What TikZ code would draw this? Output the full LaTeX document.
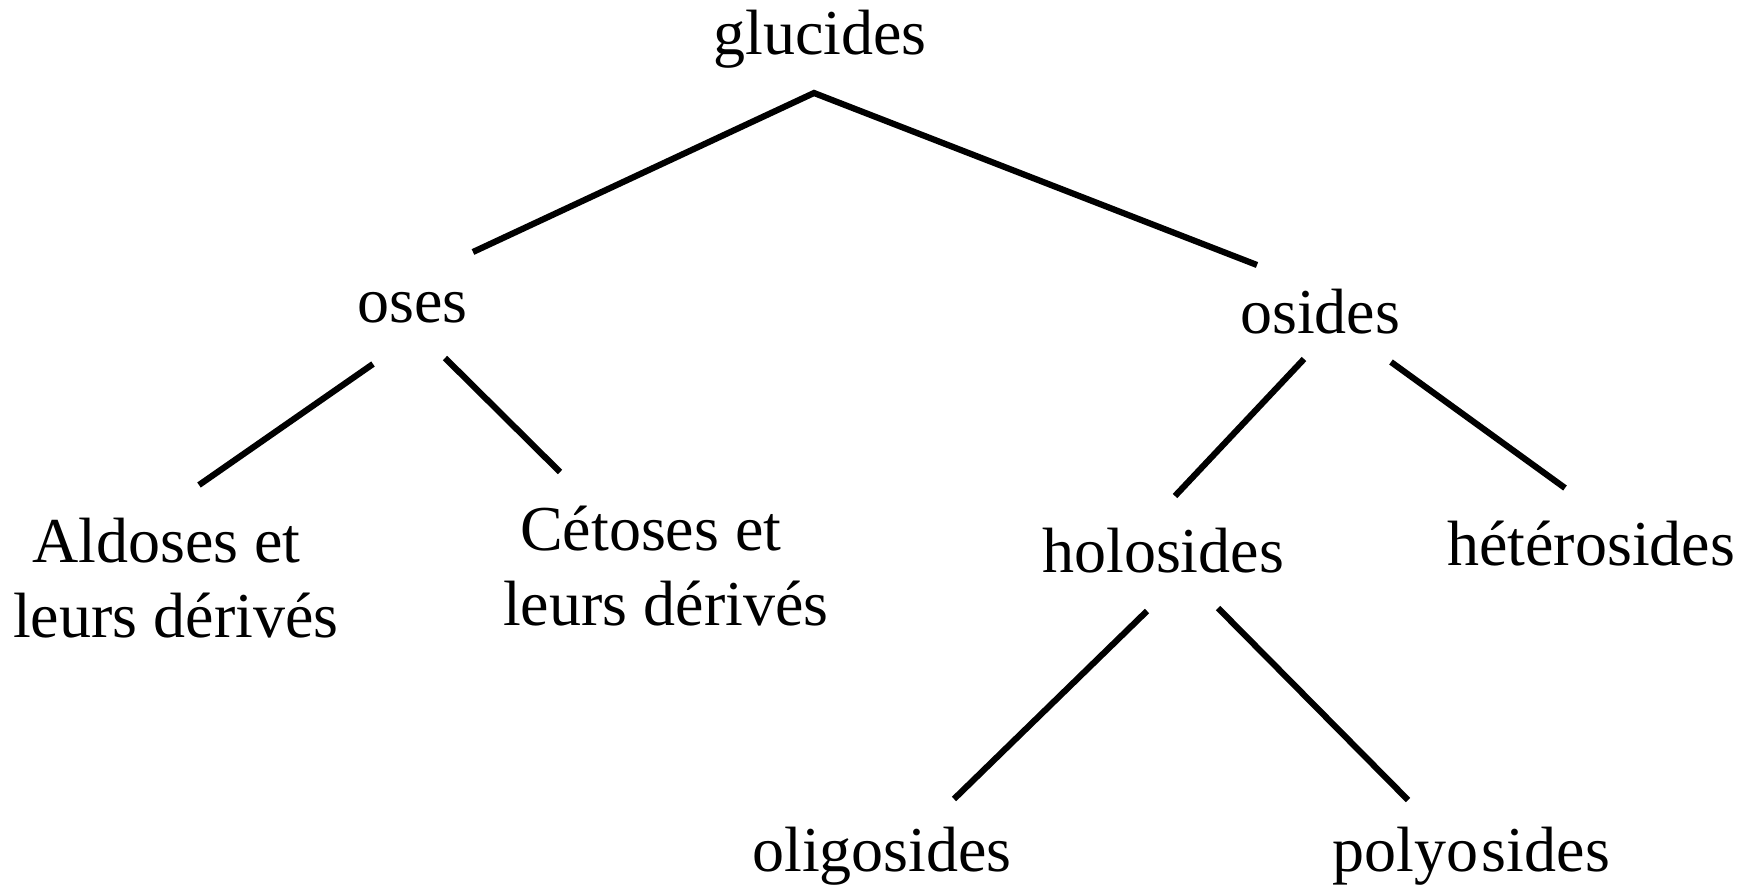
\documentclass[tikz,border=0pt]{standalone}
\usepackage{fontspec}
\setmainfont{Liberation Serif}
\begin{document}
\begin{tikzpicture}[x=1pt,y=-1pt,
  lbl/.style={inner sep=0pt,anchor=base west,font=\fontsize{64}{74}\selectfont},
  edge/.style={line width=6.2pt,line cap=butt}]
\useasboundingbox (0,0) rectangle (1755,885);
% labels
\node[lbl] (glu) at (713,55) {glucides};
\node[lbl] (oses) at (357,322) {oses};
\node[lbl] (osi) at (1240,333) {osides};
\node[lbl] (ald1) at (32,562) {Aldoses et};
\node[lbl] (ald2) at (13,637) {leurs dérivés};
\node[lbl] (cet1) at (520,550) {Cétoses et};
\node[lbl] (cet2) at (503,625) {leurs dérivés};
\node[lbl] (holo) at (1042,572) {holosides};
\node[lbl] (het) at (1447,565) {hétérosides};
\node[lbl] (oligo) at (752,871) {oligosides};
\node[lbl] (poly) at (1332,871) {polyo\kern4pt sides};
% connector ends
\coordinate (g0) at (814,93);
\coordinate (o0) at (473,252);
\coordinate (s0) at (1257,265);
\coordinate (o1) at (373,364);
\coordinate (a0) at (199,485);
\coordinate (o2) at (445,358);
\coordinate (c0) at (560,472);
\coordinate (s1) at (1304,359);
\coordinate (h0) at (1175,496);
\coordinate (s2) at (1391,362);
\coordinate (e0) at (1565,488);
\coordinate (h1) at (1147,611);
\coordinate (l0) at (954,799);
\coordinate (h2) at (1218,608);
\coordinate (p0) at (1408,800);
% connectors
\draw[edge] (o0) -- (g0) -- (s0);
\draw[edge] (o1) -- (a0);
\draw[edge] (o2) -- (c0);
\draw[edge] (s1) -- (h0);
\draw[edge] (s2) -- (e0);
\draw[edge] (h1) -- (l0);
\draw[edge] (h2) -- (p0);
\end{tikzpicture}
\end{document}
